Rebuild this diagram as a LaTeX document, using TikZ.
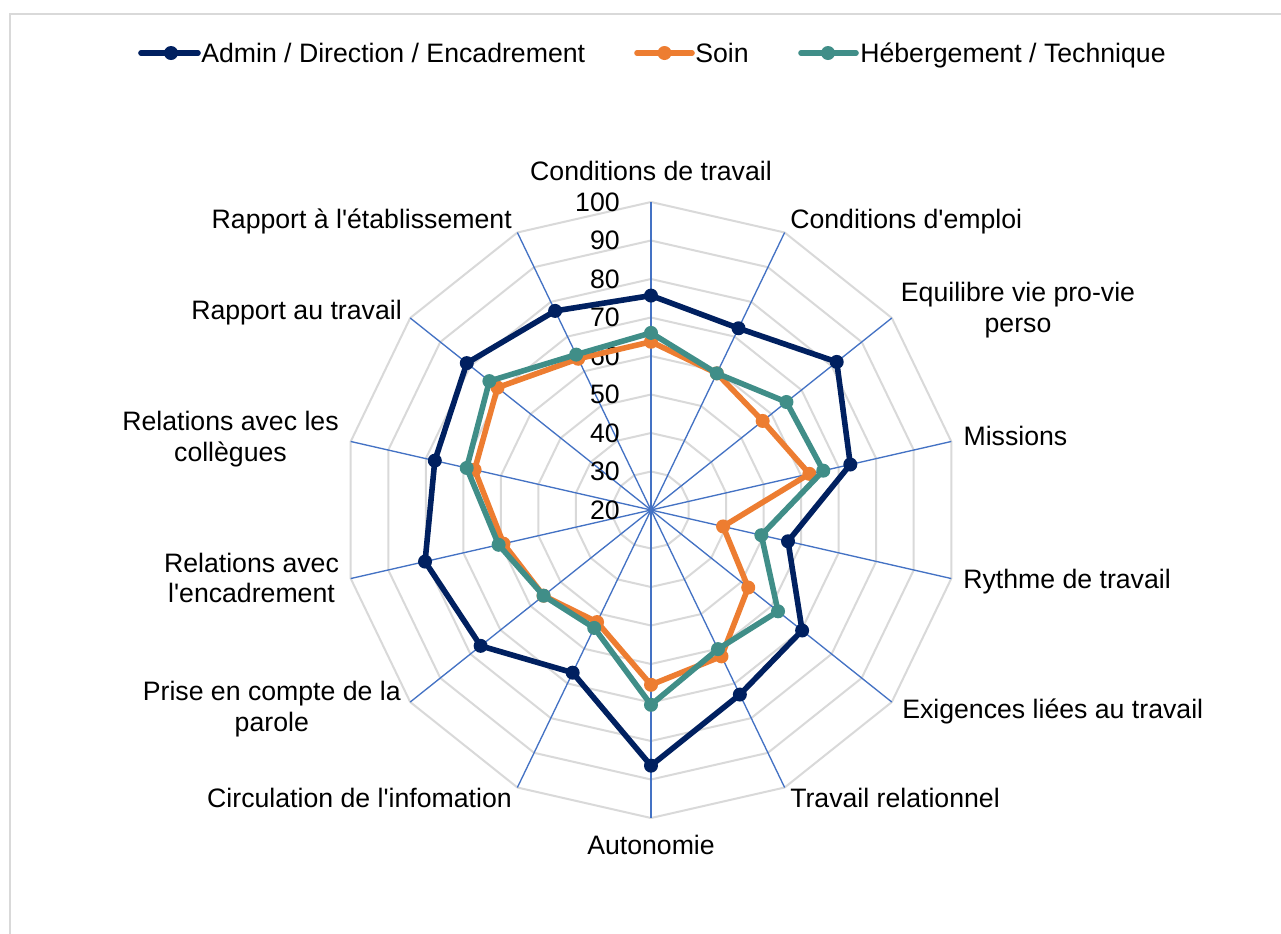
\documentclass[tikz,border=0pt]{standalone}
\usepackage{fontspec}
\setmainfont{Liberation Sans}
\definecolor{navy}{RGB}{0,32,96}
\definecolor{orng}{RGB}{237,125,49}
\definecolor{tealc}{RGB}{64,142,136}
\definecolor{axisblue}{RGB}{68,114,196}
\definecolor{gridgray}{RGB}{217,217,217}
\begin{document}
\begin{tikzpicture}[x=0.75pt,y=-0.75pt,
  every node/.style={font=\fontsize{20}{23}\selectfont, inner sep=0pt, text=black},
  gridring/.style={draw=gridgray, line width=1.5pt},
  spoke/.style={draw=axisblue, line width=1pt},
  serie/.style={line width=4.2pt, line join=round, line cap=round},
  mk/.style={circle, minimum size=10.5pt, inner sep=0pt},
  lab/.style={align=center}
]
\useasboundingbox (0,0) rectangle (1281,933);
\fill[white] (0,0) rectangle (1281,933);
\draw[gridgray, line width=1.5pt] (10,940) -- (10,14) -- (1290,14);

\begin{scope}[shift={(651,510)}]
\coordinate (O) at (0,0);
% grid rings
\foreach \v in {30,40,...,100} {
  \draw[gridring] ({-90}:{(\v-20)*3.85}) \foreach \k in {1,...,13} { -- ({\k*360/14-90}:{(\v-20)*3.85}) } -- cycle;
}
% spokes
\foreach \k in {0,...,13} {
  \coordinate (S\k) at ({\k*360/14-90}:308);
  \draw[spoke] (O) -- (S\k);
}
% tick labels
\foreach \v in {20,30,...,100} {
  \node[anchor=east] (T\v) at (-31,{-(\v-20)*3.85}) {\v};
}
% data: Admin
\foreach \v [count=\k from 0] in {75.7,72.4,81.7,73.1,56.5,70.2,73.2,86.4,66.9,76.6,80.2,77.6,81.2,77.4} {
  \coordinate (A\k) at ({\k*360/14-90}:{(\v-20)*3.85});
}
\draw[serie, navy] (A0) \foreach \k in {1,...,13} { -- (A\k) } -- cycle;
\foreach \k in {0,...,13} { \node[mk, fill=navy] (MA\k) at (A\k) {}; }
% data: Soin
\foreach \v [count=\k from 0] in {63.7,59.4,57.1,62.2,39.2,52.3,62.2,65.4,52.3,55.7,59.3,67.0,71.0,63.6} {
  \coordinate (B\k) at ({\k*360/14-90}:{(\v-20)*3.85});
}
\draw[serie, orng] (B0) \foreach \k in {1,...,13} { -- (B\k) } -- cycle;
\foreach \k in {0,...,13} { \node[mk, fill=orng] (MB\k) at (B\k) {}; }
% data: Hebergement
\foreach \v [count=\k from 0] in {66.0,59.4,65.0,65.9,49.4,62.2,60.1,70.6,54.0,55.7,60.6,69.1,73.7,64.8} {
  \coordinate (C\k) at ({\k*360/14-90}:{(\v-20)*3.85});
}
\draw[serie, tealc] (C0) \foreach \k in {1,...,13} { -- (C\k) } -- cycle;
\foreach \k in {0,...,13} { \node[mk, fill=tealc] (MC\k) at (C\k) {}; }
\end{scope}

% axis labels
\node[anchor=base] (L0) at (651,180.7) {Conditions de travail};
\node[anchor=base west] (L1) at (790,228.6) {Conditions d\textquotesingle emploi};
\node[lab] (L2) at (1018,310) {Equilibre vie pro-vie\\perso};
\node[anchor=base west] (L3) at (963.3,445.7) {Missions};
\node[anchor=base west] (L4) at (963,588.6) {Rythme de travail};
\node[anchor=base west] (L5) at (902,718.6) {Exigences liées au travail};
\node[anchor=base west] (L6) at (790,807.6) {Travail relationnel};
\node[anchor=base] (L7) at (651,854.6) {Autonomie};
\node[anchor=base east] (L8) at (512,807.6) {Circulation de l\textquotesingle infomation};
\node[lab] (L9) at (271.8,709.4) {Prise en compte de la\\parole};
\node[lab] (L10) at (251.5,578) {Relations avec\\l\textquotesingle encadrement};
\node[lab] (L11) at (230.5,439) {Relations avec les\\collègues};
\node[anchor=base east] (L12) at (402,319.6) {Rapport au travail};
\node[anchor=base east] (L13) at (512,228.6) {Rapport à l\textquotesingle établissement};

% legend
\coordinate (GA1) at (141,53); \coordinate (GA2) at (198,53);
\draw[serie, navy] (GA1) -- (GA2);
\node[mk, fill=navy] (GAm) at (171,53) {};
\node[anchor=base west] (GAt) at (201,62.5) {Admin / Direction / Encadrement};
\coordinate (GB1) at (637,53); \coordinate (GB2) at (692,53);
\draw[serie, orng] (GB1) -- (GB2);
\node[mk, fill=orng] (GBm) at (664.5,53) {};
\node[anchor=base west] (GBt) at (695,62.5) {Soin};
\coordinate (GC1) at (801,53); \coordinate (GC2) at (856,53);
\draw[serie, tealc] (GC1) -- (GC2);
\node[mk, fill=tealc] (GCm) at (828,53) {};
\node[anchor=base west] (GCt) at (860,62.5) {Hébergement / Technique};
\end{tikzpicture}
\end{document}
